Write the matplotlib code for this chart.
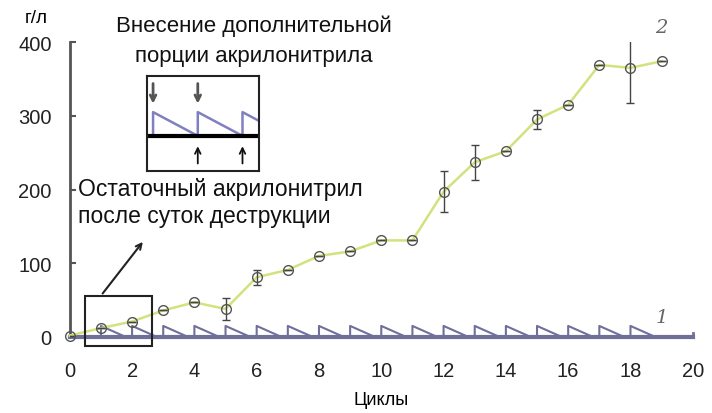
import numpy as np
import matplotlib.pyplot as plt

plt.rcParams['font.family'] = ['Liberation Sans', 'DejaVu Sans']

# Series 2: accumulated product per cycle, g/l
cycles = list(range(20))
product = [2, 12, 21, 36, 47, 38, 81, 91, 110, 116, 131, 131, 197, 237, 252, 295, 315, 369, 365, 374]
product_err = [0, 0, 0, 0, 0, 15, 10, 0, 0, 0, 0, 0, 28, 24, 0, 13, 0, 0, 48, 0]

# Series 1: residual acrylonitrile, fed at the start of every cycle
feed_cycles = list(range(1, 19))
feed_peak = 15
decay_len = 0.8

x_ticks = list(range(0, 21, 2))
y_ticks = [0, 100, 200, 300, 400]

axis_col = '#555555'
saw_col = '#6f6f9c'
line2_col = '#d2e27c'

fig = plt.figure(figsize=(7.12, 4.14), dpi=100)
ax = fig.add_axes([0.098, 0.1836, 0.875, 0.7124])

# sawtooth: jump up at feed, linear decline, then flat
sx, sy = [0], [0]
for c in feed_cycles:
    sx += [c, c, c + decay_len]
    sy += [0, feed_peak, 0]
sx.append(20)
sy.append(0)
ax.plot(sx, sy, color=saw_col, lw=1.5, zorder=3, clip_on=False)
ax.plot([0, 20], [0, 0], color=saw_col, lw=3, zorder=3, clip_on=False)
ax.plot([20, 20], [0, 5], color=saw_col, lw=2, clip_on=False)

ax.plot(cycles, product, color=line2_col, lw=1.8, zorder=4, clip_on=False)
ax.errorbar(cycles, product, yerr=product_err, fmt='none', ecolor='#444444',
            elinewidth=1, capsize=3, zorder=5)
ax.plot(cycles, product, 'o', ms=7, mfc='none', mec='#555555', mew=1,
        zorder=6, clip_on=False)

ax.set_xlim(0, 20)
ax.set_ylim(0, 400)
ax.set_xticks(x_ticks)
ax.set_yticks(y_ticks)
ax.tick_params(axis='both', direction='in', colors='#222222', labelsize=14.5,
               length=4, width=1.5)
ax.tick_params(axis='x', pad=17, length=0)
ax.tick_params(axis='y', pad=13, color=axis_col)
for s in ['top', 'right', 'bottom']:
    ax.spines[s].set_visible(False)
ax.spines['left'].set_color(axis_col)
ax.spines['left'].set_linewidth(2)

ax.set_xlabel('Циклы', fontsize=13, labelpad=8)
fig.text(0.035, 0.955, 'г/л', fontsize=13.5, ha='left', va='center')

ax.text(19.0, 420, '2', fontsize=14, style='italic', family='DejaVu Serif',
        color='#666666', ha='center', va='center')
ax.text(19.0, 27, '1', fontsize=14, style='italic', family='DejaVu Serif',
        color='#666666', ha='center', va='center')

# zoom frame around the first feeds and pointer to the caption
ax.add_patch(plt.Rectangle((0.48, -12), 2.15, 67, fill=False, ec='#222222',
                           lw=1.5, clip_on=False, zorder=7))
ax.annotate('', xy=(2.4, 132), xytext=(1.0, 56),
            arrowprops=dict(arrowstyle='->', color='#222222', lw=1.5))

ax.text(0.28, 183, 'Остаточный акрилонитрил\nпосле суток деструкции',
        fontsize=16.5, ha='left', va='center', linespacing=1.2, color='#111111')
fig.text(0.357, 0.9, 'Внесение дополнительной\nпорции акрилонитрила',
         fontsize=16, ha='center', va='center', linespacing=1.55, color='#111111')

# inset with the enlarged sawtooth
ins = fig.add_axes([0.2065, 0.5845, 0.157, 0.2295])
base, top = 0.37, 0.62
ix, iy = [-0.135], [base]
for p in [0, 1, 2]:
    ix += [p, p, p + 1]
    iy += [base, top, base]
ins.plot(ix, iy, color='#8080c0', lw=1.8)
ins.axhline(base, color='black', lw=3)
for p in [0, 1]:
    ins.annotate('', xy=(p, 0.68), xytext=(p, 0.95),
                 arrowprops=dict(arrowstyle='->', color='#555555', lw=2))
for p in [1, 2]:
    ins.annotate('', xy=(p, 0.29), xytext=(p, 0.05),
                 arrowprops=dict(arrowstyle='->', color='#111111', lw=1.3))
ins.set_xlim(-0.135, 2.365)
ins.set_ylim(0, 1)
ins.set_xticks([])
ins.set_yticks([])
for s in ins.spines.values():
    s.set_linewidth(1.5)
    s.set_color('#222222')

fig.savefig('out.png', dpi=100)
